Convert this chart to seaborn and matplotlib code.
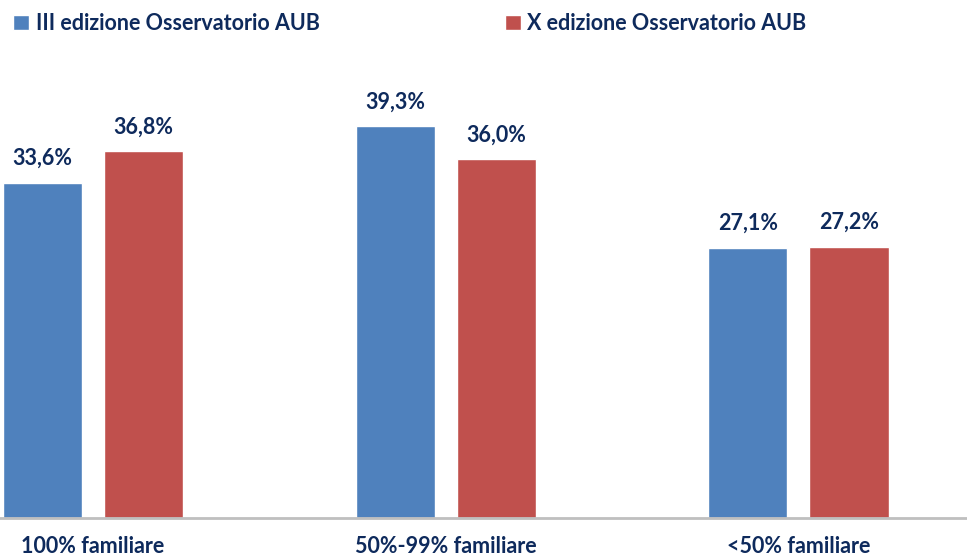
import pandas as pd
import matplotlib
matplotlib.use("Agg")
import matplotlib.pyplot as plt
import seaborn as sns

# Data
categories = ["100% familiare", "50%-99% familiare", "<50% familiare"]
series = ["III edizione Osservatorio AUB", "X edizione Osservatorio AUB"]
values_iii = [33.6, 39.3, 27.1]
values_x = [36.8, 36.0, 27.2]

df = pd.DataFrame({
    "Categoria": categories * 2,
    "Edizione": [series[0]] * 3 + [series[1]] * 3,
    "Valore": values_iii + values_x,
})

sns.set_style("white")
plt.rcParams["font.family"] = ["Lato", "DejaVu Sans"]
text_color = "#0E2A5C"
palette = ["#4F81BD", "#C0504D"]

fig = plt.figure(figsize=(9.67, 5.6), dpi=100)
ax = fig.add_axes([0, 42 / 560, 1, 518 / 560])

sns.barplot(data=df, x="Categoria", y="Valore", hue="Edizione",
            order=categories, hue_order=series, palette=palette,
            width=0.573, gap=0.217, saturation=1, ax=ax)

for cont in ax.containers:
    ax.bar_label(cont, labels=[f"{b.get_height():.1f}%".replace(".", ",") for b in cont],
                 padding=10, fontsize=15.5, fontweight="bold", color=text_color)

ax.set_ylim(0, 51.96)
ax.set_xlim(-0.264, 2.478)
ax.set_xlabel("")
ax.set_ylabel("")
ax.set_yticks([])
ax.tick_params(axis="x", length=0, pad=13, labelsize=15.5, labelcolor=text_color)
for lbl in ax.get_xticklabels():
    lbl.set_fontweight("bold")

for side in ["top", "left", "right"]:
    ax.spines[side].set_visible(False)
ax.spines["bottom"].set_color("#BFBFBF")
ax.spines["bottom"].set_linewidth(2)

handles, labels = ax.get_legend_handles_labels()
ax.get_legend().remove()
fig.legend(handles, labels, loc="upper left", bbox_to_anchor=(0.0, 1.0),
           ncol=2, frameon=False, handlelength=0.75, handleheight=0.75,
           handletextpad=0.3, columnspacing=8.6, borderaxespad=0.2,
           prop={"weight": "bold", "size": 15.5}, labelcolor=text_color)

fig.savefig("out.png", dpi=100)
